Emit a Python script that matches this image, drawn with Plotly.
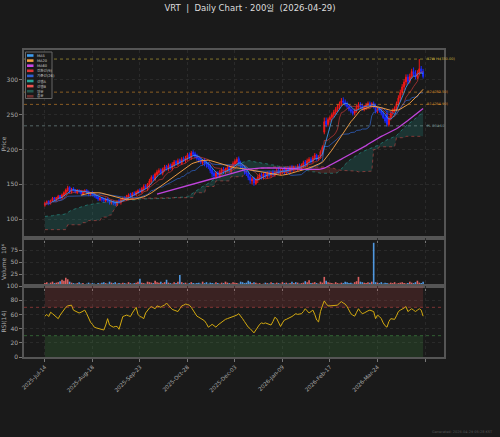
import plotly.graph_objects as go
from plotly.subplots import make_subplots
import pandas as pd
import numpy as np

# ---- daily OHLC (200 bars) ----
opens = [
    120, 123, 126, 123, 127, 131, 128, 130, 134, 131,
    134, 137, 141, 146, 139, 144, 142, 138, 141, 141,
    136, 139, 142, 140, 135, 139, 136, 134, 132, 128,
    131, 129, 126, 130, 127, 123, 126, 124, 121, 127,
    124, 128, 131, 128, 132, 136, 133, 138, 135, 138,
    142, 139, 143, 148, 144, 149, 154, 161, 157, 164,
    167, 171, 166, 171, 176, 172, 178, 173, 178, 183,
    179, 185, 180, 187, 184, 187, 193, 188, 196, 194,
    191, 188, 186, 181, 185, 181, 179, 176, 171, 166,
    161, 167, 162, 167, 172, 168, 171, 175, 169, 175,
    179, 182, 187, 180, 176, 173, 169, 166, 161, 155,
    159, 151, 156, 159, 164, 160, 166, 161, 167, 163,
    168, 164, 167, 171, 166, 168, 172, 167, 173, 169,
    175, 171, 174, 172, 177, 173, 177, 182, 178, 183,
    186, 183, 188, 192, 186, 190, 197, 225, 241, 236,
    243, 246, 250, 254, 258, 262, 266, 270, 268, 265,
    262, 258, 255, 252, 256, 261, 265, 262, 259, 261,
    264, 266, 264, 266, 262, 255, 258, 256, 252, 246,
    252, 236, 245, 252, 256, 259, 266, 274, 282, 290,
    297, 304, 298, 305, 312, 308, 304, 310, 316, 312,
]
highs = [
    125, 127, 127, 128, 132, 132, 132, 135, 135, 137,
    140, 144, 148, 147, 145, 146, 143, 143, 143, 142,
    141, 143, 143, 141, 139, 140, 137, 135, 133, 132,
    132, 131, 131, 131, 128, 127, 127, 125, 127, 129,
    130, 132, 133, 135, 137, 138, 139, 140, 141, 143,
    144, 146, 150, 150, 152, 158, 163, 164, 167, 171,
    173, 173, 174, 178, 178, 180, 180, 182, 185, 185,
    187, 187, 189, 190, 191, 195, 196, 198, 199, 197,
    194, 191, 189, 186, 188, 184, 182, 179, 174, 169,
    169, 169, 171, 174, 175, 174, 177, 178, 179, 183,
    186, 189, 190, 184, 179, 176, 172, 169, 163, 161,
    161, 159, 163, 166, 167, 167, 168, 169, 170, 169,
    171, 170, 173, 174, 172, 173, 175, 174, 176, 177,
    178, 177, 177, 179, 180, 180, 184, 185, 187, 189,
    189, 191, 195, 194, 192, 199, 206, 246, 246, 246,
    249, 253, 257, 261, 265, 269, 274, 275, 272, 269,
    265, 262, 258, 259, 264, 268, 268, 266, 264, 267,
    269, 269, 268, 269, 266, 261, 261, 259, 255, 250,
    257, 248, 255, 259, 262, 269, 278, 286, 294, 301,
    308, 308, 309, 316, 318, 314, 314, 330, 320, 316,
]
lows = [
    118, 121, 120, 121, 125, 126, 126, 128, 128, 129,
    132, 135, 139, 137, 137, 140, 137, 136, 137, 135,
    134, 137, 136, 133, 133, 133, 131, 129, 126, 126,
    125, 124, 124, 124, 121, 121, 120, 119, 119, 122,
    121, 125, 127, 126, 129, 131, 130, 133, 133, 136,
    137, 137, 140, 143, 141, 146, 151, 155, 155, 161,
    164, 164, 163, 168, 170, 169, 171, 170, 175, 177,
    176, 179, 178, 182, 181, 184, 186, 185, 190, 187,
    184, 181, 179, 178, 176, 174, 172, 166, 160, 158,
    158, 160, 159, 164, 165, 165, 168, 167, 166, 172,
    176, 179, 176, 172, 169, 164, 162, 156, 151, 150,
    148, 149, 152, 156, 157, 157, 159, 158, 160, 160,
    161, 161, 164, 164, 163, 165, 164, 164, 166, 166,
    168, 168, 170, 169, 171, 170, 174, 175, 175, 180,
    180, 181, 185, 184, 184, 187, 194, 222, 232, 233,
    239, 242, 246, 250, 254, 258, 262, 265, 262, 259,
    255, 252, 249, 249, 253, 258, 259, 256, 255, 257,
    261, 261, 261, 259, 252, 252, 253, 249, 244, 238,
    233, 233, 242, 249, 253, 256, 263, 270, 278, 285,
    292, 294, 295, 302, 305, 301, 301, 307, 309, 302,
]
closes = [
    123, 125, 122, 127, 130, 128, 131, 133, 130, 135,
    138, 142, 145, 140, 143, 141, 139, 142, 140, 137,
    139, 141, 138, 136, 138, 135, 133, 131, 129, 130,
    128, 127, 129, 126, 124, 125, 123, 122, 126, 125,
    128, 130, 129, 133, 135, 134, 137, 136, 139, 141,
    140, 144, 147, 145, 150, 155, 160, 158, 165, 168,
    170, 167, 172, 175, 173, 177, 174, 179, 182, 180,
    184, 181, 186, 185, 188, 192, 189, 195, 193, 190,
    187, 185, 182, 184, 180, 178, 175, 170, 165, 162,
    166, 163, 168, 171, 169, 172, 174, 170, 176, 180,
    183, 186, 179, 175, 172, 168, 165, 160, 156, 158,
    152, 157, 160, 163, 161, 165, 162, 166, 164, 167,
    165, 168, 170, 167, 169, 171, 168, 172, 170, 174,
    172, 175, 173, 176, 174, 178, 181, 179, 184, 186,
    183, 188, 192, 186, 189, 197, 203, 240, 236, 243,
    246, 250, 254, 258, 262, 266, 270, 268, 265, 262,
    258, 255, 252, 256, 261, 265, 262, 259, 261, 264,
    266, 264, 266, 262, 255, 258, 256, 252, 246, 241,
    236, 245, 252, 256, 259, 266, 274, 282, 290, 297,
    304, 298, 305, 312, 308, 304, 310, 316, 312, 305,
]
# volume in millions
volume = [
    6, 8, 5, 7, 9, 6, 7, 8, 10, 13,
    11, 17, 14, 9, 7, 6, 5, 6, 8, 5,
    6, 4, 5, 7, 5, 6, 5, 4, 6, 5,
    7, 8, 6, 5, 9, 7, 6, 8, 5, 6,
    5, 7, 6, 5, 8, 6, 5, 6, 7, 9,
    15, 7, 6, 5, 9, 8, 7, 6, 11, 8,
    7, 9, 6, 8, 13, 7, 6, 5, 8, 6,
    9, 23, 8, 6, 7, 5, 6, 8, 6, 5,
    6, 7, 5, 9, 6, 8, 5, 7, 6, 5,
    8, 6, 5, 7, 6, 9, 7, 6, 5, 8,
    7, 6, 5, 9, 8, 6, 7, 11, 9, 6,
    8, 7, 5, 6, 4, 5, 7, 6, 5, 8,
    6, 5, 7, 6, 5, 8, 6, 7, 5, 6,
    9, 6, 8, 7, 5, 6, 7, 10, 8, 12,
    6, 7, 8, 6, 5, 9, 7, 19, 11, 8,
    7, 6, 5, 8, 6, 5, 7, 6, 9, 8,
    6, 7, 5, 8, 10, 19, 9, 8, 7, 6,
    8, 7, 9, 90, 8, 7, 6, 8, 5, 7,
    6, 5, 7, 6, 8, 5, 6, 7, 8, 6,
    5, 6, 9, 7, 6, 8, 11, 7, 6, 9,
]
rsi = [
    57.5, 60, 57, 63, 61, 59, 56, 54, 59, 63,
    67, 70, 72, 72, 73, 66, 65, 63, 62, 63,
    64, 66, 61, 55, 49, 46, 42, 41, 40, 40,
    39, 38, 45, 54, 45, 43, 42, 43, 43, 39,
    48, 57, 58, 59, 58, 57, 62, 66, 70, 60,
    57, 56, 54, 62, 66, 69, 71, 69, 68, 72,
    71, 70, 72, 73, 76, 73, 71, 67, 66, 65,
    64, 68, 72, 73, 74.5, 74, 73, 70, 66, 62,
    57.5, 56, 54, 53, 51, 47, 42, 44, 46, 44,
    42, 45, 47, 49.5, 51, 53, 54, 55, 56, 57,
    57.5, 59, 61, 58, 54, 50, 46, 42, 40, 37,
    34, 38, 42, 46, 48, 47, 48, 47, 46, 45,
    50, 56, 54, 48, 43, 48, 52, 53, 54, 55,
    57, 59, 61, 60, 61, 61, 64, 68, 65, 62,
    64, 66, 60, 52, 49.5, 64, 72, 79, 75, 72,
    72, 72, 72, 72.5, 73, 76, 78, 76, 74.5, 71,
    66, 61, 59, 57.5, 63, 68, 64, 61, 62, 64,
    65, 66, 65, 64, 54, 59, 57, 54, 48, 44,
    42, 50, 54, 53.5, 53, 58, 64, 66, 67, 69,
    71, 64, 66, 68, 66, 64, 66, 68, 66, 57.5,
]
# ichimoku leading spans (already displaced)
span_a = [
    104, 104, 105, 105, 105, 106, 106, 106, 107, 107,
    107, 108, 110, 112, 113, 114, 115, 116, 117, 118,
    119, 120, 120, 121, 121, 122, 122, 123, 123, 124,
    124, 124, 125, 125, 125, 125, 126, 126, 126, 126,
    127, 127, 127, 127, 128, 128, 128, 128, 128, 128,
    129, 129, 129, 129, 129, 129, 129, 129, 130, 130,
    130, 130, 130, 130, 130, 130, 130, 131, 131, 131,
    131, 131, 131, 131, 132, 132, 134, 136, 138, 140,
    142, 144, 145, 147, 148, 150, 151, 153, 155, 157,
    158, 160, 162, 164, 166, 168, 170, 172, 174, 176,
    178, 179, 180, 181, 182, 183, 183, 184, 184, 183,
    183, 182, 182, 181, 181, 180, 180, 179, 179, 178,
    178, 177, 177, 176, 176, 175, 175, 174, 174, 173,
    173, 173, 172, 172, 172, 171, 171, 170, 170, 169,
    169, 168, 168, 167, 167, 166, 166, 166, 165, 165,
    165, 165, 165, 166, 167, 169, 172, 176, 179, 182,
    184, 186, 188, 190, 192, 194, 196, 197, 198, 199,
    200, 201, 202, 203, 204, 205, 207, 209, 211, 213,
    214, 215, 216, 217, 218, 220, 223, 226, 229, 232,
    234, 236, 238, 240, 242, 244, 246, 249, 252, 255,
]
span_b = [
    85, 85, 85, 85, 85, 85, 85, 85, 85, 85,
    85, 85, 92, 92, 92, 92, 92, 92, 92, 92,
    95, 95, 95, 98, 98, 98, 98, 98, 98, 98,
    103, 103, 103, 103, 106, 106, 112, 116, 120, 124,
    127, 129, 130, 130, 130, 130, 130, 130, 130, 130,
    131, 131, 131, 131, 131, 131, 131, 131, 131, 131,
    131, 131, 131, 131, 131, 131, 131, 131, 131, 131,
    131, 131, 131, 131, 131, 131, 131, 131, 131, 138,
    138, 138, 138, 138, 138, 147, 147, 147, 147, 147,
    155, 155, 155, 155, 155, 155, 155, 155, 161, 161,
    161, 161, 161, 161, 161, 168, 168, 168, 171, 171,
    171, 172, 172, 173, 173, 173, 174, 174, 174, 174,
    175, 175, 175, 175, 175, 175, 176, 176, 176, 176,
    176, 176, 176, 176, 176, 176, 176, 176, 176, 176,
    176, 176, 176, 176, 175, 175, 175, 175, 175, 175,
    174, 174, 173, 172, 171, 170, 170, 170, 170, 170,
    170, 170, 169, 169, 169, 168, 168, 168, 168, 168,
    168, 169, 169, 200, 200, 200, 204, 204, 204, 204,
    204, 204, 204, 204, 204, 217, 217, 217, 217, 217,
    219, 219, 219, 219, 219, 219, 219, 219, 219, 219,
]
tick_labels = ["2025-Jul-14", "2025-Aug-18", "2025-Sep-23", "2025-Oct-28",
               "2025-Dec-03", "2026-Jan-09", "2026-Feb-17", "2026-Mar-24"]
levels = [330.0, 282.5, 264.9, 234.1]
level_names = ["52W H (330.00)", "R2 (282.50)", "R1 (264.90)", "PL 234.10"]

# ---- indicators ----
df = pd.DataFrame({"o": opens, "h": highs, "l": lows, "c": closes})
idx = np.arange(len(df))
ma5 = df.c.rolling(5).mean()
ma20 = df.c.rolling(20).mean()
ma60 = df.c.rolling(60).mean()
tenkan = (df.h.rolling(9, min_periods=1).max() + df.l.rolling(9, min_periods=1).min()) / 2
kijun = (df.h.rolling(26, min_periods=1).max() + df.l.rolling(26, min_periods=1).min()) / 2
sa = np.array(span_a, dtype=float)
sb = np.array(span_b, dtype=float)
cloud_top = np.maximum(sa, sb)

BG = "#1a1a1a"
FONT = "DejaVu Sans, Noto Sans CJK KR"
W, H = 500, 437
ML, MR, MT, MB = 24, 56, 50, 80


def px_x(p):
    return (p - ML) / (W - ML - MR)


def px_y(p):
    return (H - MB - p) / (H - MT - MB)


fig = make_subplots(rows=3, cols=1, shared_xaxes=True, vertical_spacing=0,
                    row_heights=[188, 48, 71])

# cloud
fig.add_trace(go.Scatter(x=idx, y=sb, mode="lines", line=dict(width=0), hoverinfo="skip"), row=1, col=1)
fig.add_trace(go.Scatter(x=idx, y=cloud_top, mode="lines", line=dict(width=0), fill="tonexty",
                         fillcolor="rgba(38,166,154,0.2)", hoverinfo="skip"), row=1, col=1)
fig.add_trace(go.Scatter(x=idx, y=sa, mode="lines", line=dict(width=0), hoverinfo="skip"), row=1, col=1)
fig.add_trace(go.Scatter(x=idx, y=cloud_top, mode="lines", line=dict(width=0), fill="tonexty",
                         fillcolor="rgba(239,83,80,0.18)", hoverinfo="skip"), row=1, col=1)
fig.add_trace(go.Scatter(x=idx, y=sa, mode="lines",
                         line=dict(color="rgba(38,166,154,0.7)", width=0.8, dash="dot")), row=1, col=1)
fig.add_trace(go.Scatter(x=idx, y=sb, mode="lines",
                         line=dict(color="rgba(239,83,80,0.6)", width=0.8, dash="dot")), row=1, col=1)

# candles (up = red, down = blue)
fig.add_trace(go.Candlestick(
    x=idx, open=df.o, high=df.h, low=df.l, close=df.c,
    increasing=dict(line=dict(color="#f01818", width=1), fillcolor="#f01818"),
    decreasing=dict(line=dict(color="#1a2aff", width=1), fillcolor="#1a2aff"),
    whiskerwidth=0,
), row=1, col=1)

# moving averages and ichimoku lines
for series, color, wd in [
    (tenkan, "rgba(200,55,55,0.7)", 1.0),
    (kijun, "rgba(45,90,180,0.85)", 1.0),
    (ma5, "rgba(60,155,240,0.85)", 1.0),
    (ma20, "rgba(245,160,70,0.95)", 1.0),
    (ma60, "rgba(200,70,230,0.95)", 1.3),
]:
    fig.add_trace(go.Scatter(x=idx, y=series, mode="lines", line=dict(color=color, width=wd)),
                  row=1, col=1)

# level lines
level_colors = ["#c9b43a", "#d58a2a", "#d58a2a", "#7d9a9a"]
for lv, name, col in zip(levels, level_names, level_colors):
    fig.add_hline(y=lv, line=dict(color=col, width=0.8, dash="dot"), opacity=0.75, row=1, col=1)
    fig.add_annotation(x=len(idx), y=lv, xref="x", yref="y", text=name, showarrow=False,
                       xanchor="left", yanchor="middle", font=dict(size=3.5, color=col, family=FONT))

# volume
vol_colors = ["rgba(240,105,105,0.9)" if c >= o else "rgba(85,165,245,0.9)"
              for o, c in zip(opens, closes)]
fig.add_trace(go.Bar(x=idx, y=volume, marker=dict(color=vol_colors, line=dict(width=0))), row=2, col=1)

# rsi
n = len(idx)
fig.add_trace(go.Scatter(x=idx, y=[70] * n, mode="lines", line=dict(width=0), hoverinfo="skip"), row=3, col=1)
fig.add_trace(go.Scatter(x=idx, y=[100] * n, mode="lines", line=dict(width=0), fill="tonexty",
                         fillcolor="rgba(239,83,80,0.15)", hoverinfo="skip"), row=3, col=1)
fig.add_trace(go.Scatter(x=idx, y=[0] * n, mode="lines", line=dict(width=0), hoverinfo="skip"), row=3, col=1)
fig.add_trace(go.Scatter(x=idx, y=[30] * n, mode="lines", line=dict(width=0), fill="tonexty",
                         fillcolor="rgba(76,175,80,0.17)", hoverinfo="skip"), row=3, col=1)
fig.add_hline(y=70, line=dict(color="rgba(239,83,80,0.6)", width=0.8, dash="dot"), row=3, col=1)
fig.add_hline(y=30, line=dict(color="rgba(76,175,80,0.6)", width=0.8, dash="dot"), row=3, col=1)
fig.add_trace(go.Scatter(x=idx, y=rsi, mode="lines", line=dict(color="#d4aa10", width=1)), row=3, col=1)

# axes
tickvals = list(range(0, 201, 25))
ticktext = tick_labels + [""]
axis_common = dict(showline=True, mirror=True, linecolor="#555555", linewidth=1.5,
                   gridcolor="#2a2a2a", griddash="dot", zeroline=False, automargin=False,
                   ticks="outside", ticklen=3, tickcolor="#777777",
                   tickfont=dict(size=6, color="#aaaaaa", family=FONT))
fig.update_xaxes(**axis_common, range=[-11, 210], tickvals=tickvals, ticktext=ticktext,
                 rangeslider_visible=False)
fig.update_xaxes(showticklabels=False, row=1, col=1)
fig.update_xaxes(showticklabels=False, row=2, col=1)
fig.update_xaxes(tickangle=-45, tickfont=dict(size=5.5), row=3, col=1)
fig.update_yaxes(**axis_common)
fig.update_yaxes(range=[73, 343], tickvals=[100, 150, 200, 250, 300], row=1, col=1,
                 title=dict(text="Price", font=dict(size=6, color="#aaaaaa", family=FONT), standoff=3))
fig.update_yaxes(range=[0, 100], tickvals=[25, 50, 75], row=2, col=1,
                 title=dict(text="Volume  10⁶", font=dict(size=6, color="#aaaaaa", family=FONT), standoff=3))
fig.update_yaxes(range=[0, 100], tickvals=[0, 20, 40, 60, 80, 100], row=3, col=1,
                 title=dict(text="RSI(14)", font=dict(size=6, color="#aaaaaa", family=FONT), standoff=3))

# manual legend
legend_names = ["MA5", "MA20", "MA60", "전환선(9)", "기준선(26)", "선행A", "선행B", "양운", "음운"]
legend_colors = ["#3d9df0", "#f5a040", "#c846e6", "#e03535", "#2f5fd0",
                 "#26a69a", "#ef5350", "#24584f", "#6e3030"]
fig.add_shape(type="rect", xref="paper", yref="paper",
              x0=px_x(25.5), x1=px_x(52), y0=px_y(98.5), y1=px_y(52),
              line=dict(color="#666666", width=1), fillcolor=BG, layer="above")
for k, (nm, cl) in enumerate(zip(legend_names, legend_colors)):
    yc = 55.5 + k * 5.1
    fig.add_shape(type="rect", xref="paper", yref="paper",
                  x0=px_x(27), x1=px_x(33.5), y0=px_y(yc + 1.3), y1=px_y(yc - 1.3),
                  line=dict(width=0), fillcolor=cl, layer="above")
    fig.add_annotation(x=px_x(35), y=px_y(yc), xref="paper", yref="paper", text=nm,
                       showarrow=False, xanchor="left", yanchor="middle",
                       font=dict(size=3.6, color="#cccccc", family=FONT))

fig.add_annotation(x=px_x(495), y=px_y(432), xref="paper", yref="paper",
                   text="Generated: 2026-04-29 05:28 KST", showarrow=False,
                   xanchor="right", yanchor="middle", font=dict(size=3.5, color="#555555", family=FONT))

fig.update_layout(
    width=W, height=H,
    margin=dict(l=ML, r=MR, t=MT, b=MB),
    paper_bgcolor=BG, plot_bgcolor=BG,
    showlegend=False,
    bargap=0.15,
    hovermode=False,
    title=dict(text="VRT  |  Daily Chart · 200일  (2026-04-29)", x=0.5, xanchor="center",
               y=1 - 8 / H, yanchor="middle", font=dict(size=8.5, color="#dddddd", family=FONT)),
    font=dict(family=FONT, color="#aaaaaa"),
)

fig.write_html("out.html", config={"displayModeBar": False},
               post_script="document.body.style.margin='0';document.body.style.background='#1a1a1a';")
